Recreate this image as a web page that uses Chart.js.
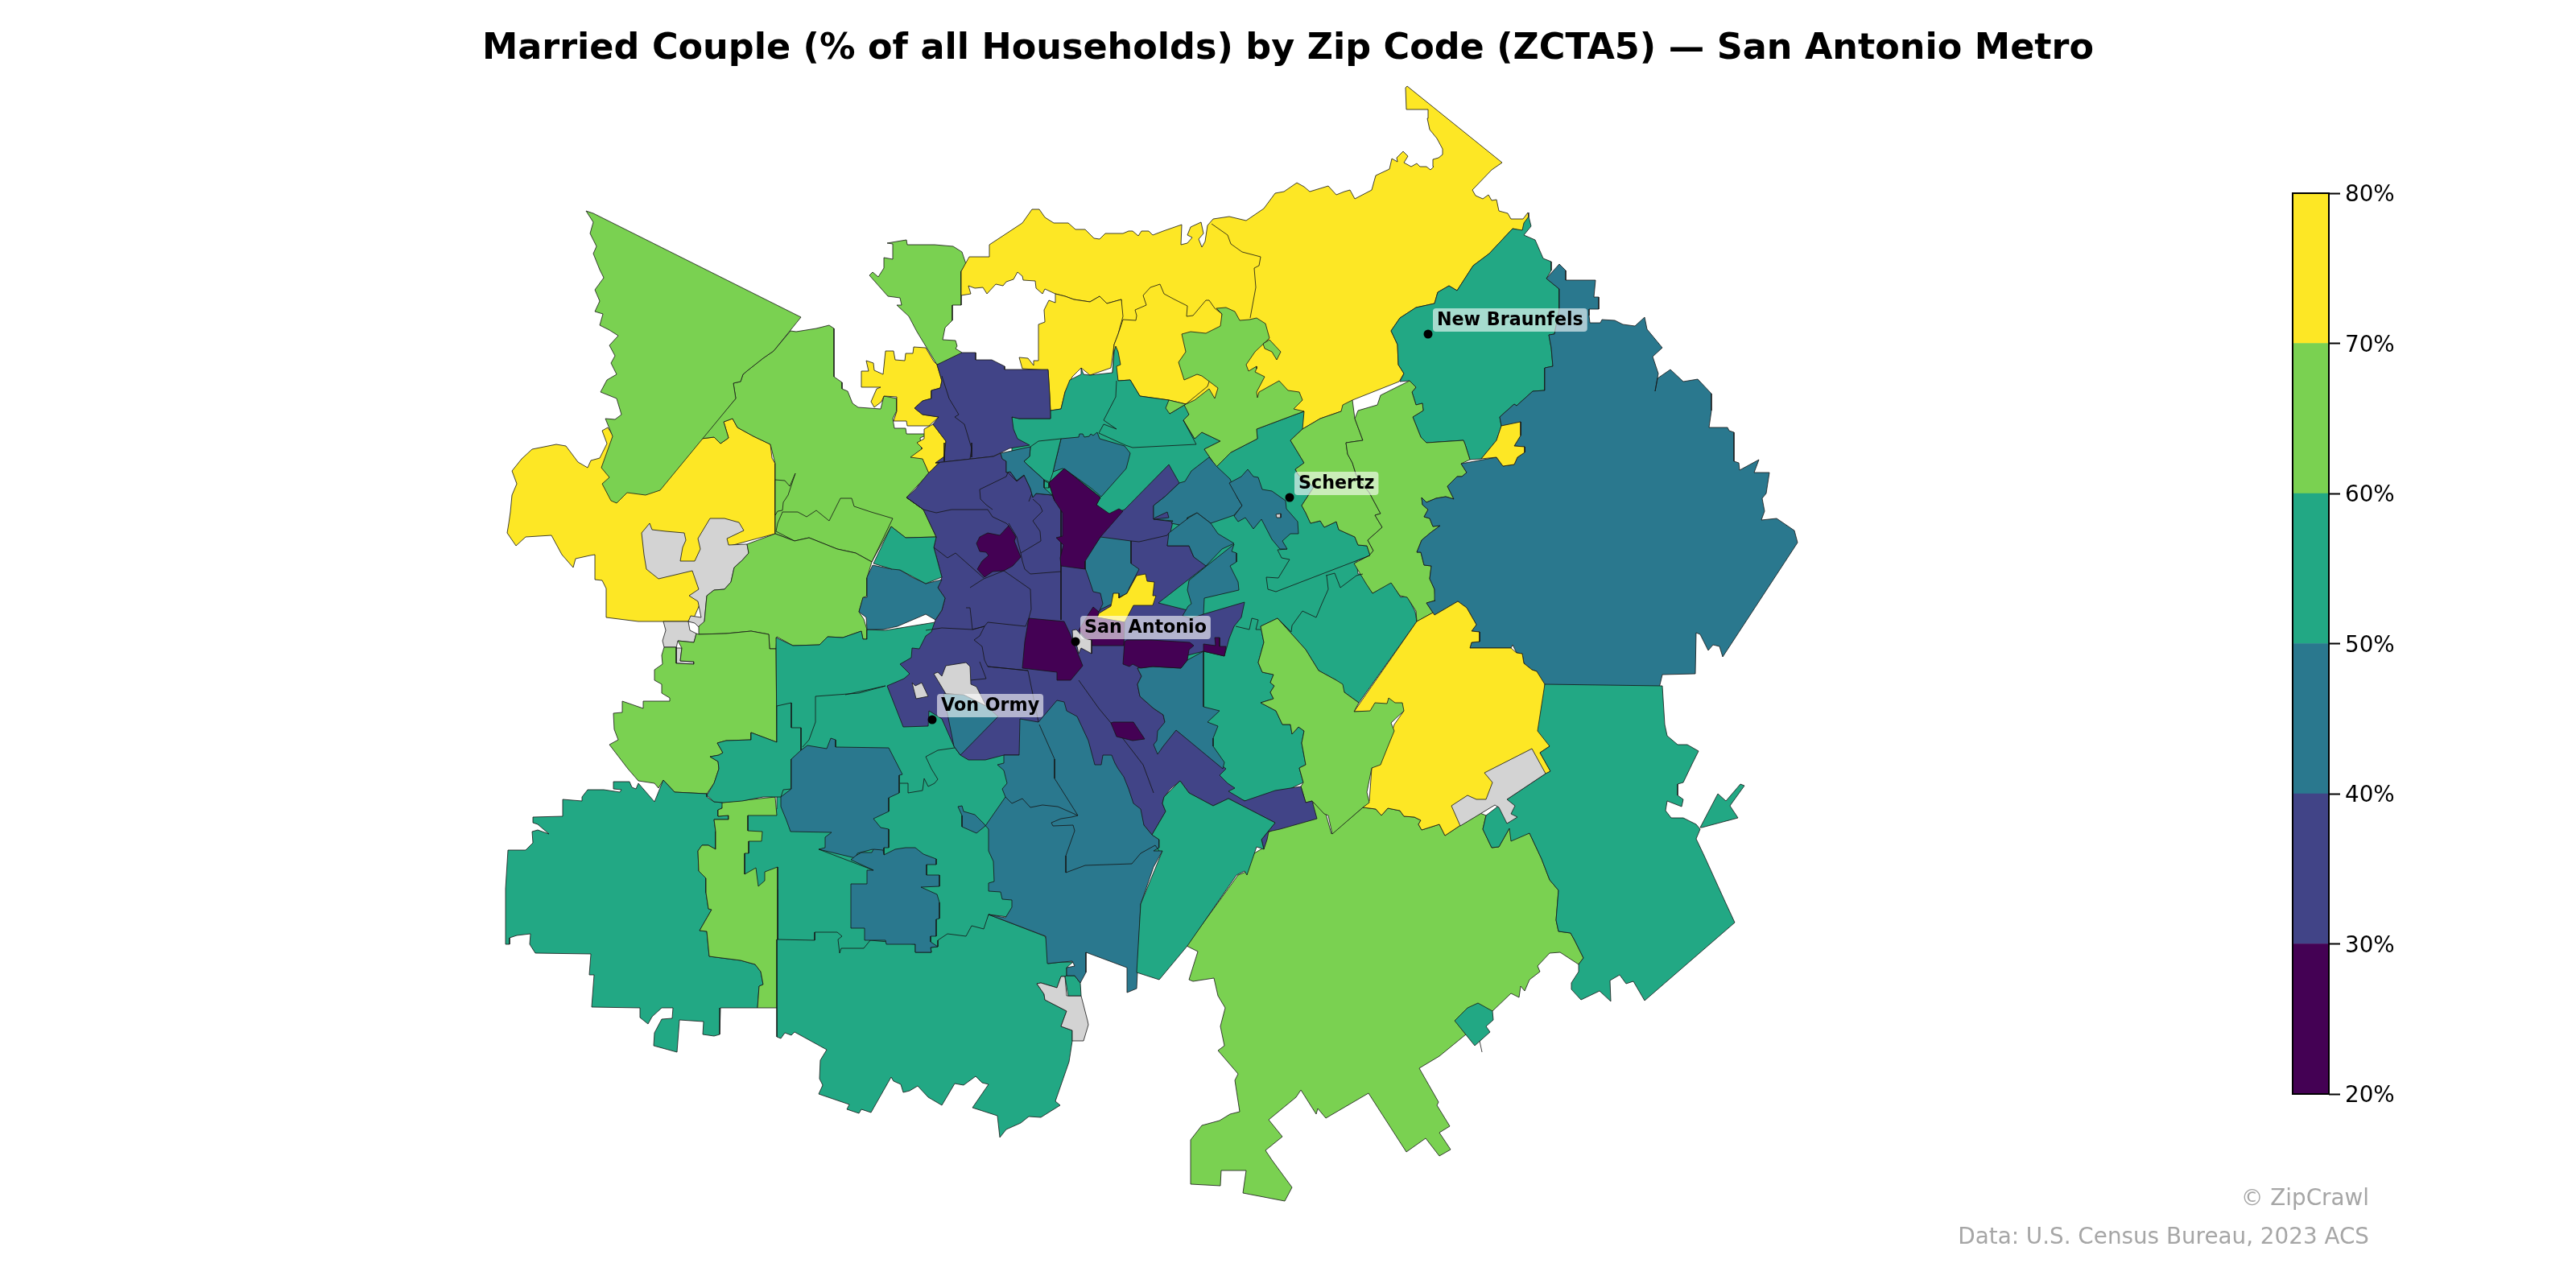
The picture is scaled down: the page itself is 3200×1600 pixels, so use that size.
<!DOCTYPE html>
<html>
<head>
<meta charset="utf-8">
<title>Married Couple by Zip Code</title>
<script src="https://cdn.jsdelivr.net/npm/chart.js@4"></script>
<style>
  html, body { margin: 0; background: #fff; }
  body { position: relative; width: 3200px; height: 1600px; overflow: hidden; font-family: "DejaVu Sans", sans-serif; }
  #mapChart { position: absolute; left: 0; top: 0; }
  #barChart { position: absolute; left: 2840px; top: 220px; }
  .note { position: absolute; right: 257px; font-size: 27.8px; line-height: 32px; color: #a6a6a6; white-space: nowrap; }
</style>
</head>
<body>
<canvas id="mapChart" width="3200" height="1600"></canvas>
<canvas id="barChart" width="200" height="1159"></canvas>
<div class="note" style="top:1472px">© ZipCrawl</div>
<div class="note" style="top:1520px">Data: U.S. Census Bureau, 2023 ACS</div>
<script>
// map values are x,y pairs in map units, one list per zip area
const titleText = 'Married Couple (% of all Households) by Zip Code (ZCTA5) — San Antonio Metro';
const binEdges = [20, 30, 40, 50, 60, 70, 80];
const binColors = ['#440154', '#414487', '#2a788e', '#22a884', '#7ad151', '#fde725'];
const noDataColor = '#d3d3d3';
const cityNames = ['New Braunfels', 'Schertz', 'San Antonio', 'Von Ormy'];
const cityX = [1774, 1602, 1336, 1158];
const cityY = [415, 618, 797, 894];

const yellowWest = [636,585,648,570,661,558,691,552,703,554,718,574,730,581,734,572,745,569,754,551,748,535,755,531,800,600,871,545,887,543,895,551,905,544,899,524,910,520,916,531,936,542,957,552,959,569,963,576,963,663,933,671,900,680,860,772,793,772,753,767,753,731,748,721,739,720,739,689,733,690,715,694,712,705,698,689,685,665,653,667,641,678,630,662,632,650,634,636,636,615,642,601];
const greenWest = [982,411,989,412,1014,408,1030,404,1036,408,1036,468,1046,475,1046,483,1053,486,1059,501,1066,506,1094,508,1098,492,1114,495,1114,510,1109,520,1111,532,1125,532,1126,539,1154,539,1143,544,1146,569,1154,588,1126,618,1147,633,1163,667,1125,668,1107,654,1083,698,1063,687,1040,682,1005,668,987,672,963,663,963,576,957,552,936,542,916,531,910,520,899,524,905,544,895,551,887,543,871,545,914,495,911,476,920,474,923,465,929,460,948,445,961,436];
const greenWestInner = [964,660,966,650,972,636,977,636,991,636,1002,642,1014,634,1030,647,1044,619,1058,619,1061,629,1082,636,1109,644,1083,698,1063,687,1040,682,1005,668,987,672];
const greenSliver = [963,596,975,597,981,604,988,588,979,615,973,624,972,634,966,635,963,640];
const greenTriangle = [728,262,737,265,995,394,961,436,948,445,929,460,923,465,920,474,911,476,914,495,820,609,802,615,779,612,766,625,759,622,748,601,757,593,747,581,761,542,752,520,764,521,772,515,766,495,746,487,754,472,766,465,759,451,764,442,757,429,768,417,757,410,745,404,749,390,739,387,745,374,739,360,750,345,745,335,737,315,741,306,733,290,737,276];
const greyHill = [797,662,807,650,810,658,827,660,850,662,852,671,848,680,845,697,863,697,870,682,867,669,882,644,900,644,918,649,924,659,903,669,905,677,928,676,930,687,922,696,912,705,908,723,900,732,887,733,878,740,875,772,903,774,902,777,870,781,863,774,855,772,858,765,871,767,867,747,856,740,868,732,860,709,818,719,803,707,800,689];
const greyHillLow = [824,772,855,772,857,783,865,787,862,798,842,796,840,805,847,805,845,821,862,822,862,825,840,824,840,804,825,804,823,796,827,783];
const greenMid = [878,740,887,733,900,732,908,723,912,705,922,696,930,687,928,676,963,663,987,672,1005,668,1040,682,1063,687,1083,698,1077,718,1077,740,1072,743,1067,760,1073,769,1077,782,1077,794,1072,794,1070,784,1047,792,1028,791,1018,801,985,802,965,791,964,806,956,806,955,788,933,784,902,787,868,788,868,778,875,772];
const greenSouthWest = [868,788,902,787,933,784,955,788,956,806,964,806,965,922,933,910,933,919,902,920,891,923,898,935,893,938,882,940,892,946,893,955,887,973,878,986,838,984,824,969,818,979,813,973,793,970,780,955,757,925,768,919,763,906,762,886,773,885,773,871,799,880,799,871,832,871,832,867,822,861,822,850,813,845,813,832,823,825,822,814,825,804,840,804,840,824,862,825,862,822,845,821,847,805,842,796,862,798,865,787];
const greenNorth = [1102,302,1126,298,1127,304,1161,304,1184,306,1195,313,1200,328,1194,337,1194,367,1194,379,1183,379,1183,398,1174,407,1171,422,1187,423,1189,430,1187,433,1195,438,1191,445,1164,453,1139,412,1129,393,1114,379,1120,379,1118,370,1103,368,1080,342,1084,338,1091,344,1098,333,1098,320,1109,322,1109,303];
const yellowNorth = [1194,337,1204,319,1229,319,1229,304,1270,277,1282,260,1291,260,1298,270,1309,277,1327,277,1336,285,1348,285,1359,296,1366,297,1373,290,1395,290,1402,287,1407,287,1414,293,1418,287,1427,287,1432,292,1445,287,1468,279,1467,304,1475,302,1481,295,1475,292,1479,282,1492,276,1495,290,1489,297,1493,307,1497,300,1500,280,1507,272,1527,269,1548,274,1570,259,1584,240,1595,238,1611,227,1620,232,1627,238,1650,231,1660,242,1670,238,1677,236,1683,247,1704,236,1707,225,1709,218,1726,210,1729,197,1736,201,1735,196,1743,188,1749,194,1744,202,1753,207,1760,203,1764,207,1772,207,1777,211,1781,207,1780,198,1787,196,1792,192,1792,185,1785,172,1776,161,1773,147,1774,136,1747,136,1746,109,1748,107,1866,202,1853,211,1829,236,1833,243,1842,247,1849,242,1853,249,1859,248,1862,262,1873,265,1877,272,1892,272,1898,264,1899,269,1891,287,1879,284,1850,315,1830,330,1810,361,1800,355,1786,363,1782,377,1759,382,1739,395,1728,411,1736,428,1737,453,1744,464,1738,474,1680,497,1666,511,1640,520,1618,533,1600,500,1560,500,1475,502,1452,497,1416,492,1404,472,1389,473,1393,372,1375,377,1366,368,1354,375,1334,372,1323,368,1311,365,1298,359,1295,365,1287,358,1286,349,1271,348,1270,343,1264,338,1259,347,1250,350,1246,355,1237,353,1226,365,1221,357,1211,358,1203,355,1206,365,1194,367];
const yellowBlockWest = [1311,365,1323,368,1334,372,1354,375,1366,368,1375,377,1393,372,1395,393,1389,415,1384,428,1380,457,1354,466,1343,457,1332,468,1323,487,1318,508,1305,510,1302,460,1270,458,1266,444,1277,445,1284,454,1284,448,1290,448,1290,403,1298,400,1297,385,1303,373,1311,376];
const yellowBlockEast = [1395,397,1411,398,1412,392,1410,385,1424,379,1420,367,1429,357,1441,353,1446,365,1459,372,1475,380,1474,393,1482,392,1498,373,1502,373,1509,383,1518,390,1520,420,1500,480,1473,502,1452,497,1416,492,1404,472,1389,473,1382,463,1384,428,1389,415];
const greenCore = [1257,518,1266,520,1305,520,1305,510,1318,508,1323,487,1329,472,1343,465,1343,457,1346,465,1354,466,1382,463,1384,437,1386,430,1389,437,1392,453,1387,455,1389,473,1404,472,1416,492,1452,497,1453,514,1473,502,1477,515,1470,522,1484,545,1493,537,1516,548,1496,558,1511,580,1529,562,1562,545,1561,533,1577,527,1609,515,1620,511,1618,533,1603,547,1620,575,1609,583,1613,590,1632,605,1617,628,1622,637,1628,650,1640,647,1645,655,1660,648,1663,658,1683,667,1687,677,1698,678,1702,690,1685,697,1687,713,1693,713,1698,725,1705,737,1728,723,1740,742,1748,740,1758,760,1760,772,1688,873,1670,860,1660,845,1638,833,1622,807,1587,768,1566,778,1570,798,1563,823,1568,835,1582,838,1578,848,1583,852,1578,860,1582,868,1566,873,1585,883,1593,900,1603,900,1605,912,1613,903,1620,908,1617,923,1622,950,1614,954,1619,972,1594,984,1573,991,1548,995,1510,985,1495,900,1400,800,1257,620];
const greenTongue = [1511,383,1523,382,1534,387,1540,398,1552,397,1561,395,1572,402,1577,420,1559,437,1548,453,1551,461,1561,455,1561,458,1559,462,1571,468,1561,487,1562,494,1564,487,1589,473,1600,485,1614,487,1618,497,1607,508,1620,511,1609,515,1577,527,1561,533,1562,545,1529,562,1511,580,1496,558,1516,548,1493,537,1484,545,1470,522,1477,515,1471,503,1484,497,1502,483,1509,495,1513,482,1493,467,1487,465,1471,472,1464,450,1473,437,1468,415,1479,412,1498,414,1516,405,1518,390];
const greenPatchA = [1452,497,1473,502,1453,514,1448,507];
const greenPatchB = [1577,422,1591,437,1586,447,1580,437,1571,433,1569,427];
const greenBraunfels = [1879,284,1891,286,1893,277,1899,269,1902,281,1893,292,1907,298,1917,321,1927,325,1927,336,1921,346,1937,359,1937,384,1931,415,1924,416,1927,432,1929,455,1919,457,1919,485,1904,486,1884,504,1881,502,1863,518,1865,529,1859,547,1840,570,1826,571,1820,552,1818,547,1772,550,1765,543,1755,518,1768,510,1767,501,1759,503,1754,487,1759,481,1751,473,1739,474,1744,464,1737,453,1736,428,1728,411,1739,395,1759,382,1782,377,1786,363,1800,355,1810,361,1830,330,1850,315];
const greenSchertzWest = [1618,533,1640,520,1666,511,1668,503,1680,497,1683,520,1693,547,1672,550,1674,564,1680,575,1685,591,1701,612,1715,638,1708,640,1717,655,1699,671,1706,684,1702,690,1698,678,1687,677,1683,667,1663,658,1660,648,1645,655,1640,647,1628,650,1622,637,1617,628,1632,605,1613,590,1609,583,1620,575,1603,547];
const greenSchertzEast = [1751,473,1759,481,1754,487,1759,503,1767,501,1768,510,1755,518,1765,543,1772,550,1818,547,1820,552,1826,571,1815,576,1822,587,1816,592,1810,592,1798,604,1806,620,1796,617,1784,619,1772,624,1766,618,1767,627,1774,633,1769,642,1776,644,1780,654,1789,653,1778,661,1766,671,1760,686,1765,686,1769,702,1778,703,1776,719,1782,732,1783,746,1772,749,1780,761,1760,772,1759,759,1748,742,1739,740,1728,724,1705,737,1697,725,1682,700,1701,690,1706,684,1699,671,1717,655,1708,640,1715,638,1701,612,1685,591,1680,575,1674,564,1672,550,1693,547,1683,520,1687,510,1711,503,1715,491];
const blueGuadalupe = [1921,346,1937,328,1945,336,1945,348,1982,348,1980,369,1986,369,1986,384,1974,384,1974,392,1975,401,1988,401,1990,397,2006,398,2016,403,2031,405,2043,394,2046,409,2065,432,2053,443,2060,464,2056,486,2059,470,2075,459,2091,474,2109,471,2126,489,2126,510,2123,531,2146,531,2148,535,2154,537,2154,573,2160,575,2161,584,2185,571,2179,587,2198,587,2194,613,2189,619,2192,635,2188,646,2207,644,2229,659,2233,674,2140,816,2136,803,2128,801,2122,808,2112,788,2107,786,2106,837,2065,838,2061,855,1919,855,1909,834,1903,832,1893,824,1891,812,1884,811,1879,801,1877,805,1826,805,1828,798,1838,797,1838,785,1828,784,1834,776,1822,755,1811,747,1782,764,1772,749,1783,746,1782,732,1776,719,1778,703,1769,702,1765,686,1760,686,1766,671,1778,661,1789,653,1780,654,1776,644,1769,642,1774,633,1767,627,1766,618,1772,624,1784,619,1796,617,1806,620,1798,604,1810,592,1816,592,1822,587,1815,576,1859,568,1867,579,1881,577,1885,568,1894,562,1894,555,1881,554,1889,541,1889,524,1879,527,1865,529,1863,518,1881,502,1884,504,1904,486,1919,485,1919,457,1929,455,1927,432,1924,416,1931,415,1937,384,1937,359];
const yellowPatch = [1840,570,1859,547,1865,529,1889,524,1889,541,1881,554,1894,555,1894,562,1885,568,1881,577,1867,579,1859,568];
const greenSouthBig = [1474,1175,1538,1087,1548,1083,1558,1060,1568,1054,1572,1036,1600,1020,1632,997,1647,1011,1654,1036,1693,1003,1709,1005,1716,1013,1724,1004,1739,1007,1744,1014,1757,1015,1765,1019,1762,1024,1766,1031,1788,1024,1795,1038,1813,1026,1836,1009,1846,1013,1842,1030,1853,1053,1862,1052,1875,1029,1885,1038,1900,1035,1915,1067,1925,1093,1936,1106,1933,1143,1936,1157,1951,1159,1956,1168,1967,1190,1961,1198,1938,1183,1925,1184,1910,1200,1913,1207,1900,1217,1894,1231,1889,1225,1887,1239,1877,1234,1854,1256,1821,1285,1788,1312,1763,1327,1787,1369,1785,1373,1801,1399,1788,1407,1802,1428,1788,1436,1771,1414,1747,1431,1700,1358,1647,1389,1637,1377,1635,1384,1616,1354,1610,1363,1576,1391,1593,1412,1572,1429,1580,1441,1605,1475,1596,1492,1544,1482,1548,1454,1517,1454,1516,1473,1479,1471,1479,1416,1493,1398,1515,1392,1528,1384,1540,1381,1534,1342,1538,1334,1513,1305,1521,1299,1516,1275,1522,1252,1513,1237,1508,1215,1482,1219,1477,1217,1488,1182];
const yellowEast = [1682,884,1760,772,1780,761,1782,764,1811,747,1822,755,1834,776,1828,784,1838,785,1838,797,1828,798,1826,805,1877,805,1884,811,1891,812,1893,824,1903,832,1909,834,1919,850,1925,927,1913,935,1926,958,1813,1026,1795,1038,1788,1024,1766,1031,1762,1024,1765,1019,1757,1015,1744,1014,1739,1007,1724,1004,1716,1013,1709,1005,1693,1003,1701,995,1704,954,1714,939,1724,925,1732,900,1744,883];
const greenStrip = [1587,768,1622,807,1638,833,1660,845,1668,850,1670,860,1688,873,1682,884,1702,883,1708,873,1723,874,1725,867,1733,873,1742,873,1744,883,1728,898,1732,908,1725,925,1715,950,1704,954,1698,984,1701,997,1693,1003,1655,1036,1650,1013,1645,1011,1630,995,1622,997,1616,977,1619,972,1614,954,1622,950,1617,923,1620,908,1613,903,1605,912,1603,900,1593,900,1585,883,1566,873,1582,868,1578,860,1583,852,1578,848,1582,838,1568,835,1563,823,1570,798,1566,778];
const greenSmallSouth = [1807,1268,1823,1252,1836,1246,1854,1256,1855,1267,1846,1275,1851,1282,1832,1299];
const greenSouthEast = [1919,850,2065,852,2068,900,2071,914,2084,925,2096,925,2110,933,2102,949,2091,972,2084,974,2084,988,2091,993,2089,1002,2071,995,2069,1007,2076,1016,2091,1016,2107,1024,2112,1030,2107,1042,2117,1063,2142,1118,2155,1146,2043,1243,2029,1219,2020,1222,2012,1211,2000,1218,2001,1244,1987,1231,1964,1242,1952,1229,1952,1221,1961,1207,1961,1198,1967,1190,1956,1168,1951,1159,1936,1157,1933,1143,1936,1106,1925,1093,1915,1067,1900,1035,1877,1045,1875,1029,1862,1052,1853,1053,1842,1030,1846,1013,1872,993,1920,961,1926,958,1913,935,1925,927,1910,908];
const greenArrow = [2112,1028,2134,986,2144,995,2162,974,2167,976,2149,1001,2159,1016,2114,1028];
const greyEast = [1903,930,1920,961,1872,993,1882,1001,1877,1011,1885,1015,1872,1023,1862,1003,1857,1000,1814,1026,1803,1001,1823,988,1834,993,1846,993,1854,972,1844,960];
const greenFarWest = [762,971,782,971,785,978,790,980,793,973,813,996,824,969,838,984,878,986,878,990,887,996,898,997,897,1004,892,1006,892,1014,905,1013,905,1018,887,1018,889,1033,889,1055,880,1050,872,1050,867,1057,868,1082,877,1091,877,1109,880,1129,884,1130,869,1156,878,1157,881,1188,920,1193,938,1198,945,1207,948,1223,943,1225,941,1252,895,1252,894,1285,887,1287,873,1285,874,1269,844,1267,841,1307,812,1299,813,1283,822,1266,835,1265,836,1252,822,1252,810,1263,805,1272,795,1264,795,1252,735,1251,738,1211,732,1211,734,1185,665,1184,658,1173,659,1160,642,1162,633,1165,633,1173,628,1173,628,1104,631,1056,653,1056,662,1047,661,1033,668,1031,682,1036,668,1024,662,1022,662,1015,699,1014,699,993,723,995,723,990,730,981,750,981,770,984,772,981,762,980];
const greenColumn = [897,997,963,990,965,1013,929,1013,929,1032,947,1033,946,1045,930,1045,930,1060,925,1060,925,1086,939,1078,942,1101,950,1094,950,1083,966,1077,966,1252,941,1252,943,1225,948,1223,945,1207,938,1198,920,1193,881,1188,878,1157,869,1156,884,1130,880,1129,877,1109,877,1091,868,1082,867,1057,872,1050,880,1050,889,1055,889,1033,887,1018,905,1018,905,1013,892,1014,892,1006,897,1004];
const greenCentralWest = [964,792,985,802,1018,801,1028,791,1047,792,1070,784,1072,794,1077,794,1077,782,1100,783,1180,770,1250,900,1270,1000,1260,1140,1228,1136,1222,1175,1070,1190,966,1190,966,1105,920,1105,920,1005,965,1005,965,922];
const greenNotch = [933,910,965,922,965,877,983,873,983,904,995,904,995,939,983,943,983,980,973,981,970,990,948,990,922,995,898,997,887,996,878,988,887,973,893,955,892,946,882,940,893,938,898,935,891,923,902,920,933,919];
const blueWestBlock = [995,932,1003,926,1027,930,1032,917,1038,919,1038,928,1104,929,1121,962,1117,963,1117,985,1104,991,1104,1008,1085,1017,1094,1028,1104,1030,1104,1053,1098,1053,1098,1063,1084,1055,1065,1060,1063,1066,1017,1055,1025,1053,1025,1040,1033,1034,982,1033,977,1019,970,1002,970,990,983,980,983,943];
const blueSouthBlock = [1057,1068,1063,1063,1070,1059,1083,1059,1085,1055,1097,1056,1098,1062,1112,1055,1125,1053,1137,1053,1147,1061,1163,1067,1163,1074,1151,1074,1151,1087,1167,1087,1167,1101,1144,1102,1164,1111,1167,1121,1167,1141,1163,1142,1163,1163,1156,1163,1156,1170,1165,1176,1156,1177,1157,1183,1137,1183,1137,1173,1101,1173,1100,1168,1074,1168,1074,1153,1057,1153,1057,1098,1077,1098,1077,1081,1085,1081];
const greenSouth = [965,1167,965,1288,970,1290,975,1283,983,1286,987,1282,1027,1304,1019,1317,1018,1340,1022,1348,1017,1359,1055,1372,1052,1378,1067,1383,1070,1378,1082,1382,1107,1338,1110,1343,1119,1347,1122,1357,1130,1355,1140,1349,1153,1363,1170,1373,1186,1346,1197,1348,1212,1337,1220,1345,1228,1347,1208,1376,1239,1386,1242,1413,1250,1403,1268,1395,1278,1387,1293,1388,1317,1373,1311,1368,1328,1319,1332,1293,1332,1280,1318,1275,1325,1256,1298,1242,1297,1235,1288,1222,1293,1221,1313,1227,1318,1213,1323,1213,1325,1212,1325,1202,1333,1195,1318,1195,1302,1197,1300,1167,1298,1163,1228,1136,1222,1154,1207,1150,1200,1163,1177,1160,1165,1168,1165,1176,1156,1177,1157,1183,1137,1183,1137,1173,1081,1168,1073,1178,1045,1178,1043,1184,1041,1167,1046,1163,1040,1158,1012,1158,1012,1168];
const greySouth = [1288,1222,1293,1221,1313,1227,1318,1213,1323,1213,1325,1237,1343,1237,1351,1268,1352,1273,1346,1293,1332,1293,1332,1280,1318,1275,1325,1256,1298,1242,1297,1235];
const greenSouthTab = [1323,1213,1325,1212,1335,1212,1342,1221,1343,1237,1327,1237];
const yellowNorthWest = [1070,461,1079,461,1076,448,1085,451,1086,460,1097,465,1100,436,1110,436,1112,447,1124,448,1125,439,1134,439,1135,431,1150,432,1160,449,1164,453,1170,473,1168,482,1157,485,1157,495,1146,498,1136,507,1146,515,1166,518,1154,529,1127,529,1126,523,1110,523,1114,511,1114,493,1098,492,1095,499,1086,506,1082,499,1089,483,1094,481,1070,481];
const yellowSliver = [1159,527,1175,548,1173,567,1154,588,1146,570,1131,568,1146,557,1139,550,1148,545,1148,533];
const purpleNorth = [1164,453,1195,438,1212,438,1212,447,1232,447,1248,455,1248,459,1302,459,1304,490,1305,520,1266,520,1257,518,1259,533,1264,545,1279,553,1254,557,1234,567,1162,575,1173,567,1175,548,1159,527,1166,518,1146,515,1136,507,1146,498,1157,495,1157,485,1168,482,1170,473];
const purpleCore = [1162,575,1167,575,1153,588,1137,608,1126,618,1147,633,1163,667,1160,680,1170,717,1165,730,1174,743,1170,758,1162,770,1157,785,1150,790,1142,806,1133,805,1132,817,1118,825,1130,837,1123,843,1102,852,1122,903,1153,902,1154,883,1170,893,1185,927,1193,938,1203,944,1224,944,1247,938,1266,938,1360,951,1421,1025,1431,1037,1448,1008,1444,998,1446,990,1454,980,1466,970,1477,985,1507,1001,1526,992,1584,1022,1567,1043,1570,1055,1574,1043,1576,1033,1590,1030,1636,1017,1630,995,1622,997,1616,977,1584,982,1546,995,1538,990,1526,983,1534,979,1525,973,1515,963,1523,955,1507,943,1461,907,1447,897,1445,888,1433,880,1416,865,1413,850,1418,840,1413,830,1495,809,1521,815,1527,793,1533,778,1542,767,1546,748,1495,763,1439,749,1498,703,1493,697,1483,692,1477,678,1450,678,1457,648,1433,645,1433,628,1447,617,1465,600,1452,577,1397,633,1378,640,1362,627,1367,618,1322,582,1303,600,1310,622,1307,615,1287,613,1283,618,1280,607,1272,590,1263,597,1255,586,1250,587,1250,573,1245,570,1243,563,1234,567];
const tealWest = [1084,702,1108,707,1110,703,1118,708,1133,717,1150,725,1170,720,1165,730,1174,743,1170,758,1162,770,1150,763,1115,778,1097,782,1077,782,1076,767,1067,760,1072,742,1077,742,1077,717];
const greenWestPocket = [1085,700,1107,654,1125,668,1163,667,1160,680,1170,717,1150,725,1118,708,1108,707];
const tealUpper = [1318,545,1340,543,1341,539,1345,539,1347,543,1353,542,1355,539,1358,541,1363,537,1366,545,1397,554,1404,563,1399,582,1368,617,1355,606,1323,583,1320,582,1308,586,1310,578];
const greenUpper = [1280,555,1290,548,1318,545,1310,578,1308,587,1304,599,1297,596,1277,578,1272,573,1279,567];
const greenUpperTab = [1296,597,1303,600,1303,606,1296,606];
const tealNorthWest = [1243,563,1280,555,1279,567,1272,573,1277,578,1297,596,1297,606,1307,615,1287,613,1283,618,1280,607,1272,590,1263,597,1255,586,1250,587,1250,573,1245,570];
const tealEastA = [1465,600,1472,598,1480,585,1502,568,1512,580,1528,595,1537,618,1543,628,1533,640,1504,650,1487,637,1475,643,1475,657,1468,657,1465,652,1455,650,1457,647,1433,645,1433,628,1447,617];
const purplePond = [1435,643,1450,636,1452,643,1433,645];
const tealEastB = [1527,600,1542,592,1550,583,1557,592,1563,593,1568,608,1580,610,1597,622,1598,632,1612,648,1613,663,1603,663,1593,672,1599,682,1590,682,1580,670,1567,645,1557,657,1547,643,1538,648,1533,641,1543,628,1537,618];
const greyDot = [1585,639,1591,638,1591,643,1586,643];
const tealEastC = [1452,662,1477,643,1487,637,1504,650,1513,663,1533,675,1518,682,1498,703,1483,692,1477,678,1450,678];
const tealEastD = [1499,703,1533,676,1530,685,1536,687,1536,698,1528,703,1538,723,1539,733,1496,743,1495,763,1480,768,1469,765,1476,753,1480,750,1475,733,1477,721];
const tealCentre = [1347,703,1348,695,1367,667,1405,672,1405,700,1415,707,1403,730,1400,737,1390,742,1383,737,1382,750,1367,757,1365,760,1370,750,1367,737,1358,735,1352,717];
const yellowCentre = [1365,762,1380,753,1383,737,1390,737,1390,743,1400,737,1412,715,1423,713,1425,722,1434,723,1432,740,1436,740,1432,752,1408,752,1397,773,1363,767];
const tealSouth = [1267,893,1290,897,1313,870,1322,872,1325,883,1338,890,1352,920,1360,950,1368,950,1370,938,1381,938,1385,948,1389,955,1396,965,1402,980,1408,998,1417,1005,1421,1025,1431,1037,1440,1043,1440,1053,1444,1057,1433,1077,1417,1123,1412,1228,1400,1233,1400,1202,1349,1183,1349,1208,1342,1221,1335,1212,1325,1212,1325,1202,1335,1200,1332,1194,1320,1195,1301,1197,1299,1163,1228,1136,1249,1140,1257,1127,1257,1118,1245,1117,1243,1108,1228,1107,1228,1097,1235,1095,1234,1070,1228,1057,1228,1030,1222,1023,1211,1012,1197,1008,1195,1001,1190,1002,1195,1013,1195,1027,1213,1035,1224,1026,1249,990,1245,980,1251,973,1247,957,1239,950,1247,948,1247,938,1266,938];
const tealVonOrmy = [1172,862,1197,862,1225,877,1240,890,1193,938,1185,927];
const tealEastCore = [1495,809,1495,857,1495,878,1515,883,1500,897,1513,902,1507,917,1507,927,1521,947,1519,955,1461,907,1445,927,1438,937,1433,925,1437,920,1438,908,1447,897,1445,888,1433,880,1416,865,1413,850,1418,840,1413,830,1432,828,1467,830,1475,820];
const greenRoad = [1431,1037,1448,1008,1444,998,1446,990,1466,970,1477,985,1507,1001,1526,992,1584,1022,1567,1043,1570,1055,1561,1052,1549,1087,1546,1082,1536,1087,1475,1175,1440,1217,1412,1208,1417,1123,1444,1057,1433,1057,1440,1053,1440,1043];
const darkNorth = [1303,600,1322,582,1367,618,1362,627,1378,638,1390,632,1395,635,1367,667,1348,697,1348,707,1318,703,1317,693,1321,677,1312,668,1320,666,1320,637,1310,622];
const darkWest = [1253,653,1262,667,1260,672,1268,692,1258,703,1247,709,1233,710,1223,717,1214,707,1220,697,1228,690,1225,686,1217,685,1213,675,1217,667,1227,662,1242,665];
const darkCentre = [1278,768,1322,772,1329,787,1345,827,1330,845,1313,845,1313,835,1270,830,1273,797];
const darkSouth = [1383,897,1408,897,1412,903,1422,918,1407,920,1387,915,1380,898];
const darkEast = [1397,797,1395,825,1403,828,1407,825,1417,830,1432,828,1467,830,1475,820,1477,807,1483,802,1478,798,1430,795,1400,795];
const darkBand = [1352,763,1358,754,1365,760,1363,767,1397,773,1396,802,1357,802,1340,783];
const darkTab = [1495,800,1510,802,1509,792,1515,792,1515,803,1523,803,1521,815,1495,809];
const greySanAntonio = [1332,783,1337,782,1347,793,1356,795,1356,812,1343,805,1340,812,1338,803,1333,798];
const greyLeft = [1133,848,1137,852,1145,848,1153,865,1138,868];
const greyBig = [1160,837,1165,835,1170,840,1175,827,1200,823,1205,828,1206,850,1213,853,1225,877,1197,863,1175,862];

// boundaries inside areas of one colour, drawn without a fill
const seamNorth = [1505,278,1525,292,1529,303,1543,313,1566,319,1564,330,1558,333,1560,357,1553,395];
const seamTail = [1838,1293,1841,1307];
const seamFarWest = [997,928,1005,919,1013,897,1013,865,1067,861,1100,852,1050,863];
const seamRidge = [1150,940,1165,932,1186,929];
const seamBasin = [1150,940,1157,955,1165,968,1161,973,1153,977,1148,967,1146,982,1128,985,1128,973,1118,973];
const seamLine = [1017,1055,1085,1081];
const seamCoreA = [1126,618,1147,633,1163,637,1182,633,1227,633,1233,642,1250,650,1253,653];
const seamCoreB = [1160,680,1177,693,1187,687,1222,718];
const seamCoreC = [1205,730,1222,719,1237,713,1247,709,1260,718,1280,732,1281,757,1278,768,1274,778,1227,773,1223,778,1208,782,1205,755,1200,755];
const seamCoreD = [1150,783,1170,780,1208,782,1223,778,1217,790,1210,795,1220,803,1223,820,1227,828,1277,833];
const seamCoreE = [1217,822,1225,843,1205,845];
const seamCoreF = [1217,608,1250,592,1252,587,1263,598,1273,590,1283,610,1278,623];
const seamCoreG = [1217,608,1218,620,1225,627,1233,633];
const seamCoreH = [1253,650,1263,667,1268,687,1270,697,1273,707,1280,713,1318,710];
const seamCoreI = [1268,687,1293,672,1292,660,1283,647,1295,635,1292,628,1283,620];
const seamCoreJ = [1318,633,1318,770];
const seamCoreK = [1179,495,1191,515,1186,518,1198,527,1207,557,1205,570];
const seamCoreL = [1170,467,1179,495];
const seamCoreM = [1207,550,1207,568];
const seamCoreN = [1173,550,1173,573];
const seamCoreO = [1405,672,1415,673,1450,665,1452,662];
const seamCoreP = [1313,823,1327,800];
const seamCoreQ = [1290,897,1310,947];
const seamCoreR = [1227,828,1277,833,1290,897];
const seamCoreS = [1340,845,1365,880,1380,898,1420,950,1433,985];
const seamEastA = [1702,690,1585,735,1575,732,1573,717,1588,718,1602,695,1592,693,1587,683,1599,682];
const seamEastB = [1647,715,1658,712,1665,730,1685,715,1693,713];
const seamEastC = [1648,715,1650,732,1642,750,1635,767,1618,759,1605,777,1604,785,1587,768];
const seamEastD = [1535,778,1552,782,1555,768,1563,770,1560,782,1566,782];
const seamUpperA = [1387,473,1386,493,1371,522,1387,533,1371,527,1365,538,1398,553,1407,556,1486,552,1470,522];
const seamSouthA = [1291,900,1310,943,1310,967,1339,1013];
const seamSouthB = [1249,990,1257,998,1270,992,1280,1003,1295,1000,1314,1002,1339,1013];
const seamSouthC = [1339,1013,1331,1015,1318,1017,1306,1022,1308,1026,1333,1025,1335,1032,1324,1063,1324,1084,1348,1075,1406,1073,1417,1060,1435,1050,1440,1057];

// back to front: [points, married couple %], null for no data
const mapLayers = [
  [yellowWest, 74], [greenWest, 64], [greenWestInner, 63], [greenSliver, 65], [greenTriangle, 66],
  [greyHill, null], [greyHillLow, null], [greenMid, 63], [greenSouthWest, 65], [greenNorth, 67],
  [yellowNorth, 73], [yellowBlockWest, 75], [yellowBlockEast, 74], [greenCore, 55], [greenTongue, 62],
  [greenPatchA, 61], [greenPatchB, 62], [greenBraunfels, 54], [greenSchertzWest, 64], [greenSchertzEast, 65],
  [blueGuadalupe, 47], [yellowPatch, 72], [greenSouthBig, 66], [yellowEast, 73], [greenStrip, 62],
  [greenSmallSouth, 55], [greenSouthEast, 56], [greenArrow, 56], [greyEast, null], [greenCentralWest, 54],
  [greenFarWest, 57], [greenColumn, 61], [greenNotch, 53], [greenSouth, 57], [blueWestBlock, 46], [blueSouthBlock, 45],
  [greySouth, null], [greenSouthTab, 52], [yellowNorthWest, 71], [yellowSliver, 72],
  [purpleNorth, 36], [purpleCore, 35],
  [seamNorth], [seamTail], [seamFarWest], [seamRidge], [seamBasin], [seamLine], [seamCoreA], [seamCoreB],
  [seamCoreC], [seamCoreD], [seamCoreE], [seamCoreF], [seamCoreG], [seamCoreH], [seamCoreI], [seamCoreJ],
  [seamCoreK], [seamCoreL], [seamCoreM], [seamCoreN], [seamCoreO], [seamCoreP], [seamCoreQ], [seamCoreR],
  [seamCoreS], [seamEastA], [seamEastB], [seamEastC], [seamEastD], [seamUpperA],
  [tealWest, 44], [greenWestPocket, 53], [tealUpper, 46], [greenUpper, 52], [greenUpperTab, 51], [tealNorthWest, 45],
  [tealEastA, 43], [purplePond, 38], [tealEastB, 44], [greyDot, null], [tealEastC, 46], [tealEastD, 45],
  [tealCentre, 47], [yellowCentre, 72], [tealSouth, 44], [tealVonOrmy, 42], [tealEastCore, 46], [greenRoad, 56],
  [darkNorth, 28], [darkWest, 27], [darkCentre, 26], [darkSouth, 29], [darkEast, 27], [darkBand, 28], [darkTab, 29],
  [greySanAntonio, null], [greyLeft, null], [greyBig, null],
  [seamSouthA], [seamSouthB], [seamSouthC],
];

function pctColor(pct) {
  if (pct === null) return noDataColor;
  const i = binEdges.findIndex((edge, n) => pct >= edge && pct < binEdges[n + 1]);
  return binColors[i];
}

function toPoints(flat, closed) {
  const pts = [];
  for (let i = 0; i < flat.length; i += 2) pts.push({ x: flat[i], y: flat[i + 1] });
  if (closed) pts.push(pts[0]);
  return pts;
}

const datasets = mapLayers.map(([flat, pct], i) => {
  const isSeam = pct === undefined;
  return {
    data: toPoints(flat, !isSeam),
    showLine: true,
    tension: 0,
    pointRadius: 0,
    borderWidth: 1,
    borderColor: 'rgba(20,20,20,0.8)',
    backgroundColor: isSeam ? 'transparent' : pctColor(pct),
    fill: isSeam ? false : 'shape',
    order: mapLayers.length - i,
  };
});

datasets.push({
  data: cityX.map((x, i) => ({ x, y: cityY[i] })),
  showLine: false,
  pointRadius: 5.5,
  pointBackgroundColor: '#000',
  pointBorderWidth: 0,
  order: -1,
});

const cityLabels = {
  id: 'cityLabels',
  afterDatasetsDraw(chart) {
    const { ctx, scales } = chart;
    ctx.save();
    ctx.font = 'bold 22.2px "DejaVu Sans"';
    ctx.textBaseline = 'middle';
    cityNames.forEach((name, i) => {
      const left = scales.x.getPixelForValue(cityX[i]) + 6;
      const mid = scales.y.getPixelForValue(cityY[i]) - 17.5;
      const w = ctx.measureText(name).width + 10;
      ctx.fillStyle = 'rgba(255,255,255,0.6)';
      ctx.beginPath();
      ctx.roundRect(left, mid - 14.5, w, 29, 4);
      ctx.fill();
      ctx.fillStyle = '#000';
      ctx.fillText(name, left + 5, mid + 0.5);
    });
    ctx.restore();
  },
};

new Chart(document.getElementById('mapChart'), {
  type: 'scatter',
  data: { datasets },
  plugins: [cityLabels],
  options: {
    responsive: false,
    devicePixelRatio: 1,
    animation: false,
    events: [],
    layout: { padding: 0, autoPadding: false },
    plugins: {
      legend: { display: false },
      tooltip: { enabled: false },
      title: {
        display: true,
        text: titleText,
        color: '#000',
        font: { family: 'DejaVu Sans', size: 44.5, weight: 'bold', lineHeight: 1.2 },
        padding: { top: 35, bottom: 11.6 },
      },
    },
    scales: {
      x: { type: 'linear', display: false, min: 0, max: 3200 },
      y: { type: 'linear', display: false, reverse: true, min: 100, max: 1600 },
    },
  },
});

const barFrame = {
  id: 'barFrame',
  afterDatasetsDraw(chart) {
    const { ctx, chartArea: a } = chart;
    ctx.save();
    ctx.strokeStyle = '#000';
    ctx.lineWidth = 2;
    ctx.strokeRect(a.left, a.top, a.right - a.left, a.bottom - a.top);
    ctx.restore();
  },
};

new Chart(document.getElementById('barChart'), {
  type: 'bar',
  data: {
    labels: ['Married Couple'],
    datasets: binColors.map((color, i) => ({
      data: [[binEdges[i], binEdges[i + 1]]],
      backgroundColor: color,
      borderWidth: 0,
      barPercentage: 1,
      categoryPercentage: 1,
    })),
  },
  plugins: [barFrame],
  options: {
    responsive: false,
    devicePixelRatio: 1,
    animation: false,
    events: [],
    layout: { padding: { left: 8, top: 20, bottom: 20 }, autoPadding: false },
    plugins: { legend: { display: false }, tooltip: { enabled: false } },
    scales: {
      x: { stacked: true, display: false },
      y: {
        position: 'right',
        min: 20,
        max: 80,
        afterFit(scale) { scale.width = 147; scale.paddingTop = 0; scale.paddingBottom = 0; },
        border: { display: false },
        grid: { drawOnChartArea: false, tickLength: 14, tickWidth: 2, tickColor: '#000' },
        ticks: {
          stepSize: 10,
          padding: 6,
          labelOffset: 3,
          color: '#000',
          font: { family: 'DejaVu Sans', size: 27.8 },
          callback: (v) => v + '%',
        },
      },
    },
  },
});
</script>
</body>
</html>
